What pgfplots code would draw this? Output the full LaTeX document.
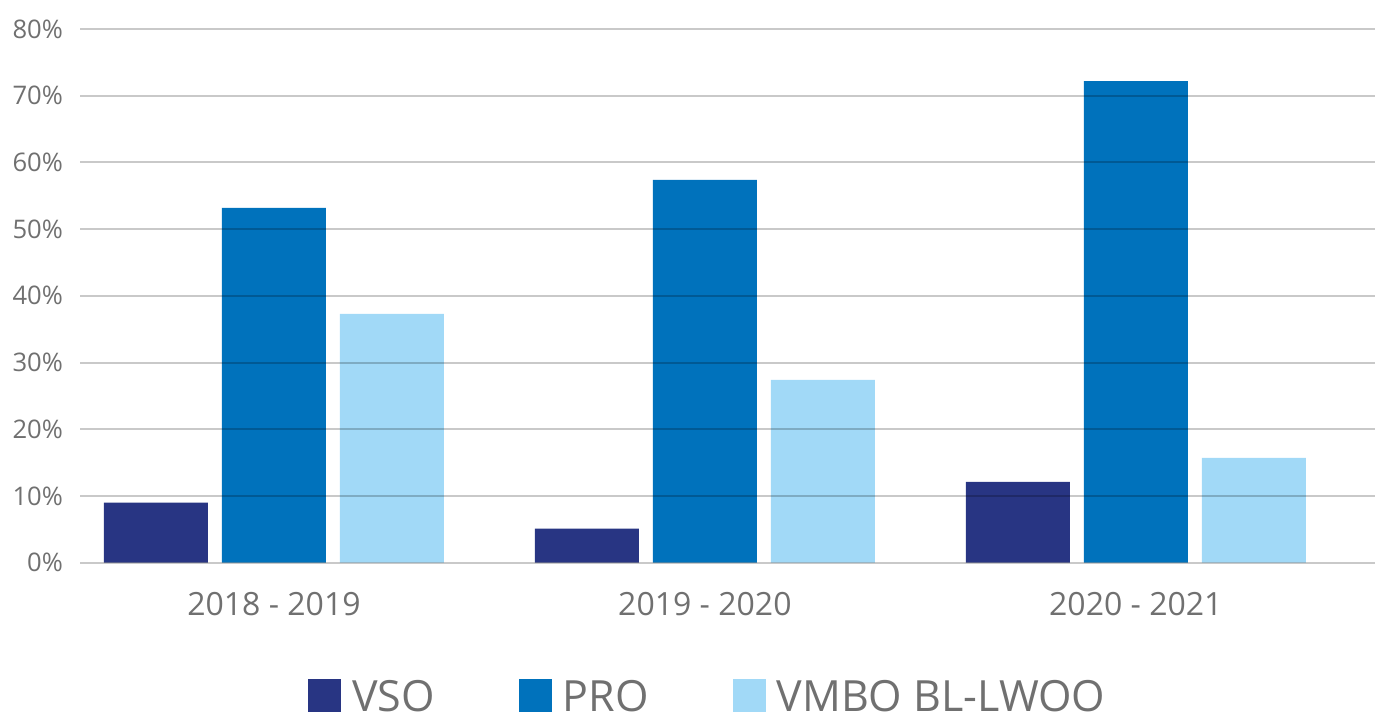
\documentclass[border=0pt]{standalone}
\usepackage{pgfplots}
\usepackage{pgfplotstable}
\pgfplotsset{compat=1.18}
\usepackage{fontspec}
\setmainfont{Open Sans}
\definecolor{vso}{HTML}{283583}
\definecolor{pro}{HTML}{0072BC}
\definecolor{vmbo}{HTML}{A1D9F7}
\definecolor{txt}{HTML}{707070}
\pgfplotstableread{
x vso pro vmbo
0 9.0 53.2 37.3
1 5.1 57.4 27.4
2 12.1 72.2 15.7
}\data
\begin{document}
\begin{tikzpicture}
\begin{axis}[
  at={(40pt,-14.5pt)}, anchor=north west,
  scale only axis, width=647.5pt, height=266.8pt,
  xmin=-0.45, xmax=2.555, ymin=0, ymax=80,
  ytick={0,10,...,80},
  yticklabels={0\%,10\%,20\%,30\%,40\%,50\%,60\%,70\%,80\%},
  xtick={0,1,2},
  xticklabels={2018 - 2019, 2019 - 2020, 2020 - 2021},
  axis line style={draw=none},
  major tick length=0pt,
  ymajorgrids,
  major grid style={draw=black, opacity=0.21, line width=1pt},
  axis on top,
  ybar, bar width=0.2413,
  yticklabel style={font=\fontsize{12.8}{15}\selectfont, text=txt, xshift=-5pt},
  xticklabel style={font=\fontsize{16}{19}\selectfont, text=txt, anchor=base, yshift=-26.5pt},
  legend columns=3,
  legend image code/.code={\fill[#1] (0pt,0pt) rectangle (16.5pt,16.5pt);},
  legend style={draw=none, fill=none, font=\fontsize{21.5}{25}\selectfont, text=txt,
    at={(axis description cs:0.4855,-0.293)}, anchor=south,
    inner sep=0pt,
    /tikz/every even column/.append style={column sep=40pt},
    /tikz/every odd column/.append style={column sep=3.5pt},
    cells={anchor=base west}},
]
\addplot[fill=vso, draw=none, bar shift=-0.2738] table[x=x, y=vso]{\data};
\addplot[fill=pro, draw=none, bar shift=0] table[x=x, y=pro]{\data};
\addplot[fill=vmbo, draw=none, bar shift=0.2738] table[x=x, y=vmbo]{\data};
\legend{VSO, PRO, VMBO BL-LWOO}
\end{axis}
\pgfresetboundingbox
\path[use as bounding box] (0,0) rectangle (689pt,-360pt);
\end{tikzpicture}
\end{document}
